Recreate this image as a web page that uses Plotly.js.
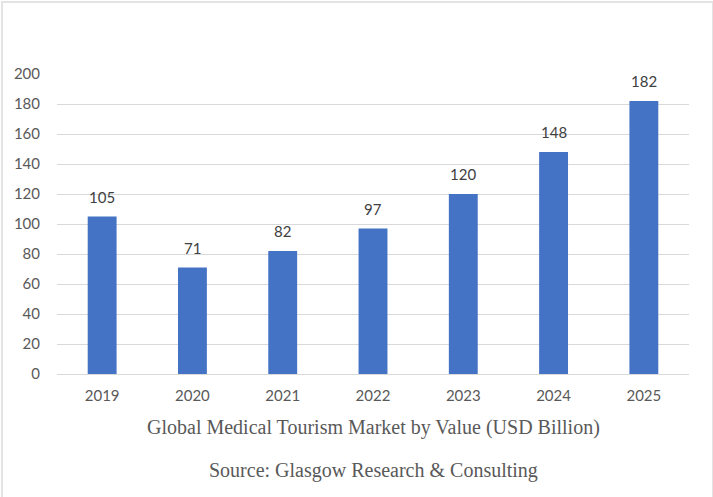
<!DOCTYPE html>
<html>
<head>
<meta charset="utf-8">
<script src="https://cdn.plot.ly/plotly-3.0.1.min.js"></script>
<style>
  html, body { margin: 0; padding: 0; background: #fff; }
  #frame { position: absolute; left: 0; top: 0; width: 713px; height: 497px; }
  #border { position: absolute; left: 1px; top: 1px; width: 709px; height: 500px;
            border-left: 2px solid #e3e3e3; border-top: 2px solid #e3e3e3; border-right: 2px solid #e3e3e3;
            pointer-events: none; }
</style>
</head>
<body>
<div id="frame"></div>
<div id="border"></div>
<script>
// market value by year
var years = ['2019', '2020', '2021', '2022', '2023', '2024', '2025'];
var values = [105, 71, 82, 97, 120, 148, 182];

var data = [{
  type: 'bar',
  x: years,
  y: values,
  marker: { color: '#4472C4' },
  hoverinfo: 'x+y'
}];

// value labels above bars (category index on x)
var labels = values.map(function (v, i) {
  return {
    x: i, y: v, xref: 'x', yref: 'y',
    text: String(v),
    showarrow: false, yanchor: 'bottom', yshift: 9,
    font: { family: 'Lato, sans-serif', size: 15, color: '#404040' }
  };
});

labels.push({
  xref: 'paper', yref: 'paper', x: 0.5, y: -0.177, yanchor: 'middle',
  text: 'Global Medical Tourism Market by Value (USD Billion)',
  showarrow: false,
  font: { family: 'Liberation Serif, serif', size: 20, color: '#595959' }
});
labels.push({
  xref: 'paper', yref: 'paper', x: 0.5, y: -0.32, yanchor: 'middle',
  text: 'Source: Glasgow Research &amp; Consulting',
  showarrow: false,
  font: { family: 'Liberation Serif, serif', size: 20, color: '#595959' }
});

var layout = {
  width: 713,
  height: 497,
  margin: { l: 57, r: 24, t: 74, b: 123 },
  paper_bgcolor: '#fff',
  plot_bgcolor: '#fff',
  bargap: 0.68,
  showlegend: false,
  xaxis: {
    type: 'category',
    range: [-0.5, 6.5],
    showgrid: false,
    showline: true,
    linecolor: '#d9d9d9',
    linewidth: 1,
    ticks: '',
    ticklabelstandoff: 8,
    tickfont: { family: 'Lato, sans-serif', size: 15, color: '#595959' }
  },
  yaxis: {
    range: [0, 200],
    dtick: 20,
    showgrid: true,
    gridcolor: '#d9d9d9',
    gridwidth: 1,
    zeroline: false,
    showline: false,
    ticks: '',
    ticklabelstandoff: 16,
    tickfont: { family: 'Lato, sans-serif', size: 15, color: '#595959' }
  },
  annotations: labels
};

Plotly.newPlot('frame', data, layout, { displayModeBar: false, staticPlot: true });
</script>
</body>
</html>
